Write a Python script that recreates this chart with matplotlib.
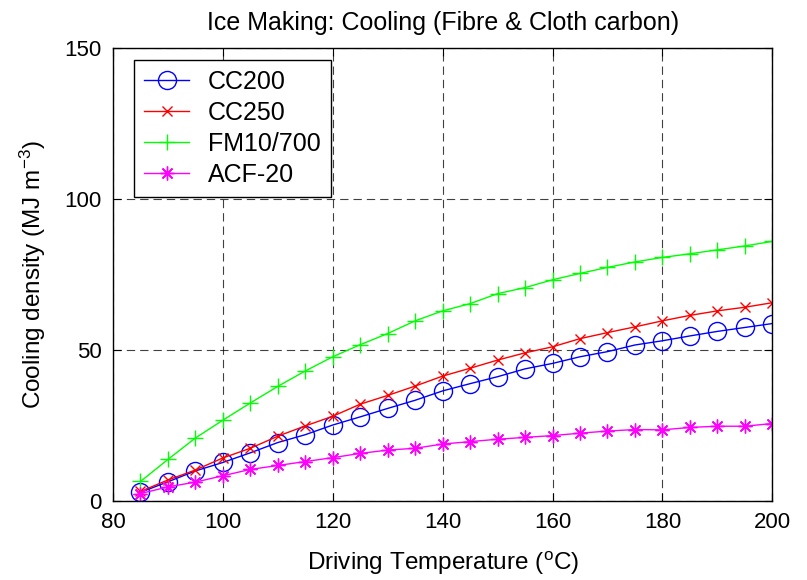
import matplotlib
matplotlib.use('Agg')
import matplotlib.pyplot as plt

plt.rcParams['font.family'] = ['Liberation Sans', 'DejaVu Sans']
plt.rcParams['mathtext.default'] = 'regular'

# driving temperature (deg C)
temps = [85, 90, 95, 100, 105, 110, 115, 120, 125, 130, 135, 140,
         145, 150, 155, 160, 165, 170, 175, 180, 185, 190, 195, 200]

# cooling density (MJ m^-3) per adsorbent
cc200 = [2.9, 6.4, 10.0, 12.8, 16.0, 19.4, 22.0, 25.2, 27.9, 30.7, 33.4, 36.5,
         38.9, 41.2, 43.8, 45.6, 47.8, 49.5, 51.7, 53.1, 54.7, 56.2, 57.5, 58.8]
cc250 = [3.2, 7.0, 10.3, 14.3, 17.5, 21.5, 24.9, 28.1, 32.1, 35.0, 38.1, 41.4,
         44.0, 46.7, 49.1, 51.1, 53.8, 55.8, 57.7, 59.7, 61.5, 63.0, 64.2, 65.7]
fm10 = [6.5, 13.8, 20.9, 26.8, 32.5, 38.0, 43.1, 47.8, 51.8, 55.5, 59.7, 63.0,
        65.4, 68.7, 70.7, 73.3, 75.4, 77.4, 79.2, 80.7, 81.9, 83.2, 84.5, 86.0]
acf20 = [2.5, 4.7, 6.3, 8.4, 10.5, 11.8, 13.1, 14.4, 15.8, 16.9, 17.5, 18.9,
         19.7, 20.5, 21.1, 21.7, 22.5, 23.2, 23.7, 23.6, 24.4, 24.8, 24.8, 25.7]

x_ticks = [80, 100, 120, 140, 160, 180, 200]
y_ticks = [0, 50, 100, 150]

fig = plt.figure(figsize=(8.07, 5.80), dpi=100)
ax = fig.add_axes([0.140, 0.136, 0.817, 0.781])

ax.plot(temps, cc200, color='#0000ff', lw=1, marker='o', ms=13,
        mfc='none', mew=1, label='CC200')
ax.plot(temps, cc250, color='#ff0000', lw=1, marker='x', ms=7,
        mew=1, label='CC250')
ax.plot(temps, fm10, color='#00ff00', lw=1, marker='+', ms=11,
        mew=1, label='FM10/700')
ax.plot(temps, acf20, color='#ff00ff', lw=1, marker=(8, 2, 0), ms=10,
        mew=1, label='ACF-20')

ax.set_xlim(80, 200)
ax.set_ylim(0, 150)
ax.set_xticks(x_ticks)
ax.set_yticks(y_ticks)
ax.tick_params(direction='in', top=True, right=True, labelsize=16,
               length=6, width=0.8, pad=8)
ax.grid(True, color='black', linestyle=(0, (7.5, 4.5)), lw=0.8, alpha=0.75)
for sp in ax.spines.values():
    sp.set_linewidth(1.0)

ax.set_xlabel('Driving Temperature ($^{o}$C)', fontsize=17.5, labelpad=12)
ax.set_ylabel('Cooling density (MJ m$^{-3}$)', fontsize=17.5, labelpad=12)
ax.set_title('Ice Making: Cooling (Fibre & Cloth carbon)', fontsize=18, pad=13)

leg = ax.legend(loc='upper left', fontsize=18, fancybox=False, framealpha=1,
                edgecolor='black', handlelength=1.8, handletextpad=0.75,
                borderpad=0.4, labelspacing=0.28, borderaxespad=0,
                bbox_to_anchor=(0.032, 0.9735))
leg.get_frame().set_linewidth(1.0)

fig.savefig('out.png', dpi=100, facecolor='white')
